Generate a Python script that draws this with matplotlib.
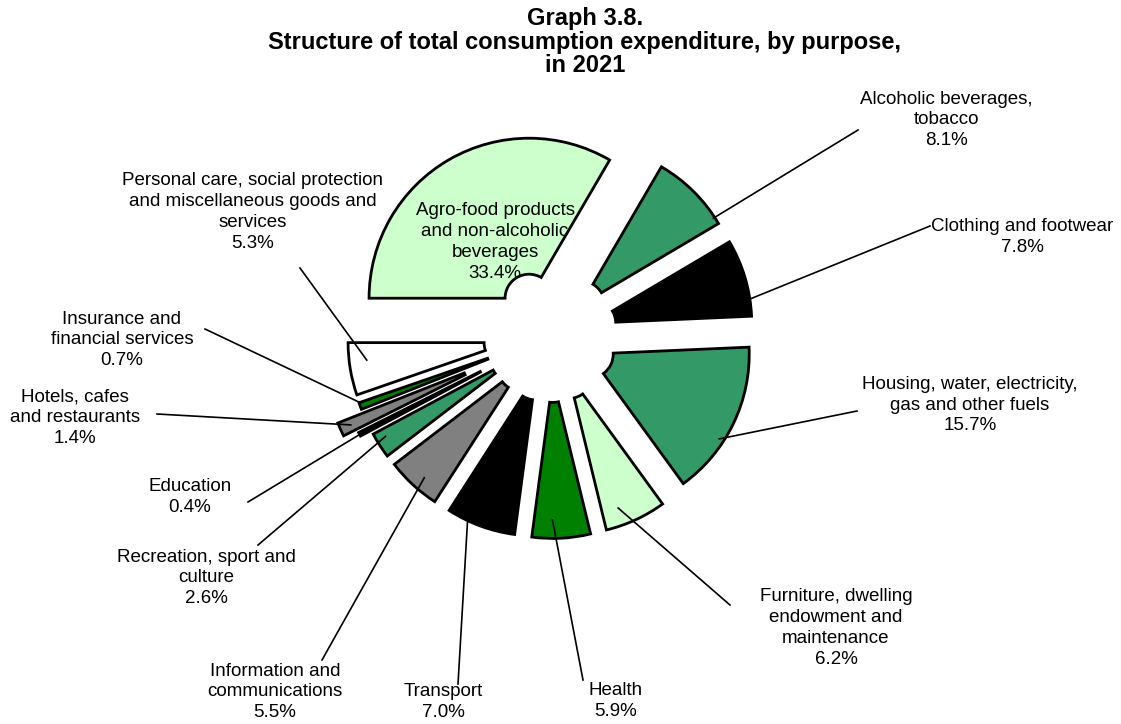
import numpy as np
import matplotlib
matplotlib.use("Agg")
import matplotlib.pyplot as plt

plt.rcParams['font.family'] = ['Liberation Sans', 'DejaVu Sans']

# data
categories = [
    "Agro-food products\nand non-alcoholic\nbeverages",
    "Alcoholic beverages,\ntobacco",
    "Clothing and footwear",
    "Housing, water, electricity,\ngas and other fuels",
    "Furniture, dwelling\nendowment and\nmaintenance",
    "Health",
    "Transport",
    "Information and\ncommunications",
    "Recreation, sport and\nculture",
    "Education",
    "Hotels, cafes\nand restaurants",
    "Insurance and\nfinancial services",
    "Personal care, social protection\nand miscellaneous goods and\nservices",
]
shares = [33.4, 8.1, 7.8, 15.7, 6.2, 5.9, 7.0, 5.5, 2.6, 0.4, 1.4, 0.7, 5.3]

colors = ['#CCFFCC', '#339966', '#000000', '#339966', '#CCFFCC', '#008000',
          '#000000', '#808080', '#339966', '#000000', '#808080', '#008000',
          '#FFFFFF']

W, H = 1121, 724
CX, CY = 550.5, H - 335.5
R = 160
HOLE = 24
explode = [43, 43, 43, 43, 43, 43, 43, 43, 43, 55, 70, 43, 43]

# label layout (screen px): text centre, leader start, (fraction along wedge, radius fraction)
text_pos = [(495, 242), (946, 120), (1022, 237), (970, 405), (836, 628),
            (616, 701), (443, 702), (275, 692), (206, 578), (190, 497),
            (75, 418), (122, 340), (253, 212)]
leader_start = [None, (858, 130), (930, 226), (857, 411), (730, 605),
                (583, 680), (458, 684), (322, 660), (258, 545), (248, 502),
                (157, 414), (205, 329), (300, 268)]
leader_on_wedge = [None, (0.91, 0.99), (0.78, 1.0), (0.63, 0.97), (0.70, 0.89),
                   (0.65, 0.885), (0.70, 1.0), (0.43, 0.92), (0.68, 0.94),
                   (0.5, 0.98), (0.5, 0.93), (0.9, 0.99), (0.63, 0.89)]

fig = plt.figure(figsize=(W / 100, H / 100), dpi=100)
ax = fig.add_axes([0, 0, 1, 1])

wedges, _ = ax.pie(shares, colors=colors, explode=explode, radius=R,
                   center=(CX, CY), startangle=180, counterclock=False,
                   wedgeprops=dict(width=R - HOLE, edgecolor='black', linewidth=2))

ax.set_xlim(0, W)
ax.set_ylim(0, H)
ax.set_aspect('equal')
ax.axis('off')

for i, w in enumerate(wedges):
    label = categories[i] + "\n" + "{:.1f}%".format(shares[i])
    tx, ty = text_pos[i]
    ax.text(tx, H - ty, label, ha='center', va='center', fontsize=13.5,
            linespacing=1.3, color='black')
    if leader_start[i] is None:
        continue
    t, f = leader_on_wedge[i]
    a = np.deg2rad(w.theta2 - t * (w.theta2 - w.theta1))
    ex = w.center[0] + f * w.r * np.cos(a)
    ey = w.center[1] + f * w.r * np.sin(a)
    sx, sy = leader_start[i]
    ax.plot([sx, ex], [H - sy, ey], color='black', linewidth=1.2)

fig.text(585 / W, 1 - 42 / H,
         "Graph 3.8.\nStructure of total consumption expenditure, by purpose,\nin 2021",
         ha='center', va='center', fontsize=17, fontweight='bold', linespacing=1.0)

fig.savefig("out.png", dpi=100)
